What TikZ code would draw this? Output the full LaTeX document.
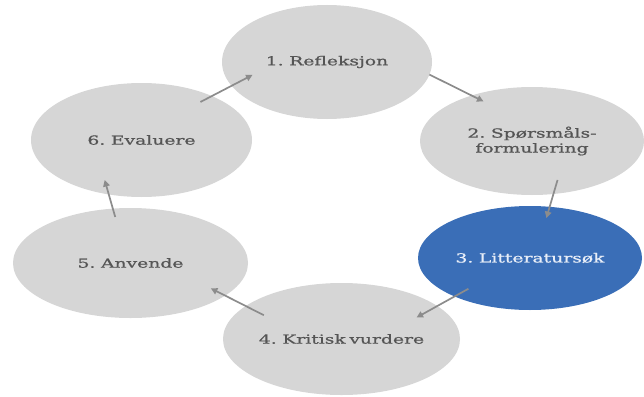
\documentclass[tikz,border=0pt]{standalone}
\usepackage{fontspec}
\setmainfont{DejaVu Serif}[FakeStretch=1.5,FakeBold=0.8,WordSpace=0.6]
\usetikzlibrary{shapes.geometric,arrows.meta}
\definecolor{fasegray}{RGB}{214,214,214}
\definecolor{fasetext}{RGB}{85,85,85}
\definecolor{fasebla}{RGB}{58,110,183}
\definecolor{faselys}{RGB}{232,238,248}
\definecolor{pilgray}{RGB}{140,140,140}
\begin{document}
\begin{tikzpicture}[x=1pt,y=-1pt,
	fase/.style={ellipse,fill=fasegray,text=fasetext,align=center,inner sep=0pt,outer sep=0pt,
		font=\fontsize{12.5}{15}\selectfont},
	aktiv/.style={fase,fill=fasebla,text=faselys},
	pil/.style={draw=pilgray,line width=1.7pt,-{Triangle[length=6.5pt,width=6.5pt]}}]
	\useasboundingbox (0,0) rectangle (644,396);
	\node[fase,minimum width=210pt,minimum height=114pt] (refleksjon) at (327,62) {1. Refleksjon};
	\node[fase,minimum width=224pt,minimum height=108pt] (sporsmal) at (532,141) {2. Spørsmåls-\\formulering};
	\node[aktiv,minimum width=224pt,minimum height=104pt] (litteratur) at (530,258) {3. Litteratursøk};
	\node[fase,minimum width=237pt,minimum height=112pt] (kritisk) at (341.5,339) {4. Kritisk vurdere};
	\node[fase,minimum width=235pt,minimum height=110pt] (anvende) at (130.5,263) {5. Anvende};
	\node[fase,minimum width=221pt,minimum height=114pt] (evaluere) at (141.5,140) {6. Evaluere};
	
	\draw[pil,shorten <=-12.9pt,shorten >=-23.6pt] (evaluere.32.2) -- (refleksjon.-166.4);
	\draw[pil,shorten >=-13.2pt] (refleksjon.-7.1) -- (sporsmal.143.8);
	\draw[pil,shorten <=-14.6pt,shorten >=-11.7pt] (sporsmal.-68.5) -- (litteratur.69.4);
	\draw[pil,shorten <=-15.8pt,shorten >=-23.7pt] (litteratur.-153.3) -- (kritisk.19.6);
	\draw[pil,shorten <=-20.3pt,shorten >=-16pt] (kritisk.161.3) -- (anvende.-19);
	\draw[pil,shorten <=-8.7pt,shorten >=-15pt] (anvende.108.3) -- (evaluere.-121.4);
\end{tikzpicture}
\end{document}
